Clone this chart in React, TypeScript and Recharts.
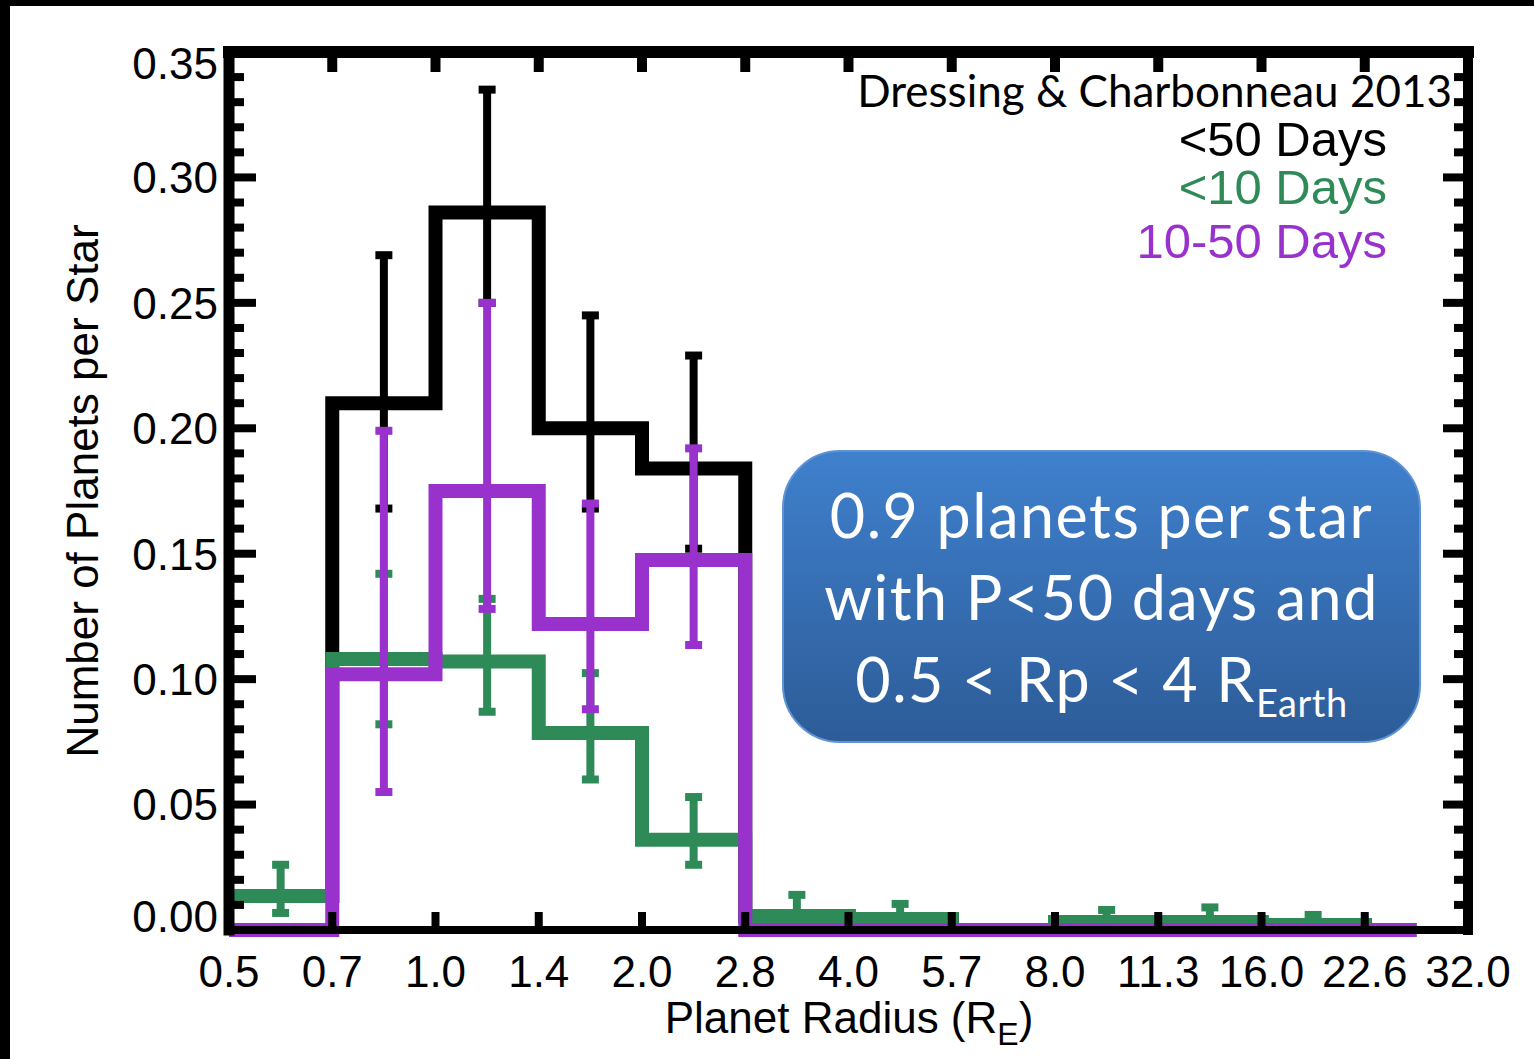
import { ComposedChart, Line, Scatter, ErrorBar, XAxis, YAxis } from 'recharts';

const RADIUS_LABELS = ['0.5', '0.7', '1.0', '1.4', '2.0', '2.8', '4.0', '5.7', '8.0', '11.3', '16.0', '22.6', '32.0'];

// planets per star in each radius bin (bin i spans RADIUS_LABELS[i]..RADIUS_LABELS[i+1])
const ALL_50 = [0.0136, 0.21, 0.286, 0.2, 0.184, 0.0056, 0.0044, 0, 0.0032, 0.0032, 0.002, 0];
const P_10 = [0.0136, 0.108, 0.107, 0.0785, 0.036, 0.0056, 0.0044, 0, 0.0032, 0.0032, 0.002, 0];
const P_10_50 = [0, 0.102, 0.175, 0.122, 0.1475, 0, 0, 0, 0, 0, 0, 0];

// error bars: which bins, lower and upper ends
const ALL_50_BINS = [1, 2, 3, 4];
const ALL_50_LO = [0.168, 0.25, 0.168, 0.152];
const ALL_50_HI = [0.269, 0.335, 0.245, 0.229];

const P_10_BINS = [0, 1, 2, 3, 4, 5, 6, 8, 9, 10];
const P_10_LO = [0.0068, 0.082, 0.087, 0.06, 0.026, 0.004, 0.003, 0.002, 0.002, 0.001];
const P_10_HI = [0.026, 0.142, 0.132, 0.1024, 0.053, 0.014, 0.0104, 0.008, 0.009, 0.006];

const P_10_50_BINS = [1, 2, 3, 4];
const P_10_50_LO = [0.055, 0.128, 0.088, 0.1136];
const P_10_50_HI = [0.199, 0.25, 0.17, 0.192];

const X_TICKS = RADIUS_LABELS.map((_, i) => i);
const Y_TICKS = Array.from({ length: 36 }, (_, i) => i / 100);

const BLACK = '#000000';
const GREEN = '#2E8B57';
const PURPLE = '#9932CC';
const SANS = '"Liberation Sans", Arial, Helvetica, sans-serif';
const CALIBRI = 'Lato, "Open Sans", sans-serif';

// step rows: one per bin edge, last one closes the final half bin
const stepRows = [
  ...ALL_50.map((_, i) => ({ x: i, all: ALL_50[i], short: P_10[i], mid: P_10_50[i] })),
  { x: ALL_50.length - 0.5, all: ALL_50[11], short: P_10[11], mid: P_10_50[11] },
];

const errRows = (bins: number[], vals: number[], lo: number[], hi: number[]) =>
  bins.map((b, k) => ({ x: b + 0.5, y: vals[b], err: [vals[b] - lo[k], hi[k] - vals[b]] }));

const isMajor = (v: number) => Math.round(v * 100) % 5 === 0;

const BottomTick = ({ x, y, payload }: any) => (
  <g>
    <line x1={x} y1={y} x2={x} y2={y - 18} stroke="#000" strokeWidth={8} />
    <text x={x} y={y + 57} textAnchor="middle" fontFamily={SANS} fontSize={44} fill="#000">
      {RADIUS_LABELS[payload.value]}
    </text>
  </g>
);

const TopTick = ({ x, y }: any) => <line x1={x} y1={y} x2={x} y2={y + 20} stroke="#000" strokeWidth={10} />;

const LeftTick = ({ x, y, payload }: any) => {
  const v = payload.value;
  const major = isMajor(v);
  // IDL nudges the end labels inside the axis range
  const shift = v === 0 ? -14 : v >= 0.35 ? 11 : 0;
  return (
    <g>
      <line x1={x} y1={y} x2={x + (major ? 27 : 15)} y2={y} stroke="#000" strokeWidth={8} />
      {major && (
        <text x={x - 11} y={y + shift} dy="0.36em" textAnchor="end" fontFamily={SANS} fontSize={44} fill="#000">
          {v.toFixed(2)}
        </text>
      )}
    </g>
  );
};

const RightTick = ({ x, y, payload }: any) => (
  <line x1={x} y1={y} x2={x - (isMajor(payload.value) ? 25 : 14)} y2={y} stroke="#000" strokeWidth={8} />
);

const Blank = () => <g />;

export default function App() {
  return (
    <div style={{ position: 'absolute', left: 0, top: 0, width: 1534, height: 1059, background: '#fff', overflow: 'hidden' }}>
      <ComposedChart width={1534} height={1059} data={stepRows} margin={{ top: 51, right: 65, bottom: 0, left: 0 }}>
        <XAxis dataKey="x" type="number" domain={[0, 12]} ticks={X_TICKS} interval={0} height={129}
          tickSize={0} tickMargin={0} tick={<BottomTick />}
          axisLine={{ stroke: '#000', strokeWidth: 8, strokeLinecap: 'square' }} />
        <XAxis xAxisId="top" orientation="top" dataKey="x" type="number" domain={[0, 12]} ticks={X_TICKS} interval={0}
          height={1} tickSize={0} tickMargin={0} tick={<TopTick />}
          axisLine={{ stroke: '#000', strokeWidth: 12, strokeLinecap: 'square' }} />
        <YAxis type="number" domain={[0, 0.35]} ticks={Y_TICKS} interval={0} width={229}
          tickSize={0} tickMargin={0} tick={<LeftTick />}
          axisLine={{ stroke: '#000', strokeWidth: 11, strokeLinecap: 'square' }} />
        <YAxis yAxisId="right" orientation="right" type="number" domain={[0, 0.35]} ticks={Y_TICKS} interval={0} width={1}
          tickSize={0} tickMargin={0} tick={<RightTick />}
          axisLine={{ stroke: '#000', strokeWidth: 10, strokeLinecap: 'square' }} />

        {/* invisible copy so the mirrored top / right axes get a domain */}
        <Line xAxisId="top" yAxisId="right" dataKey="all" stroke="none" dot={false} isAnimationActive={false} legendType="none" />

        <Line dataKey="all" type="stepAfter" stroke={BLACK} strokeWidth={14} dot={false} isAnimationActive={false} strokeLinecap="butt" strokeLinejoin="miter" />
        <Scatter data={errRows(ALL_50_BINS, ALL_50, ALL_50_LO, ALL_50_HI)} dataKey="y" shape={Blank} isAnimationActive={false}>
          <ErrorBar dataKey="err" direction="y" width={8.5} strokeWidth={8} stroke={BLACK} />
        </Scatter>

        <Line dataKey="short" type="stepAfter" stroke={GREEN} strokeWidth={14} dot={false} isAnimationActive={false} strokeLinecap="butt" strokeLinejoin="miter" />
        <Scatter data={errRows(P_10_BINS, P_10, P_10_LO, P_10_HI)} dataKey="y" shape={Blank} isAnimationActive={false}>
          <ErrorBar dataKey="err" direction="y" width={8.5} strokeWidth={8} stroke={GREEN} />
        </Scatter>

        <Line dataKey="mid" type="stepAfter" stroke={PURPLE} strokeWidth={14} dot={false} isAnimationActive={false} strokeLinecap="butt" strokeLinejoin="miter" />
        <Scatter data={errRows(P_10_50_BINS, P_10_50, P_10_50_LO, P_10_50_HI)} dataKey="y" shape={Blank} isAnimationActive={false}>
          <ErrorBar dataKey="err" direction="y" width={8.5} strokeWidth={8} stroke={PURPLE} />
        </Scatter>
      </ComposedChart>

      <svg width={1534} height={1059} style={{ position: 'absolute', left: 0, top: 0, pointerEvents: 'none' }}>
        <text x={1452} y={107} textAnchor="end" fontFamily={CALIBRI} fontSize={44} fill="#000">Dressing &amp; Charbonneau 2013</text>
        <text x={1387} y={156} textAnchor="end" fontFamily={SANS} fontSize={49} fill={BLACK}>&lt;50 Days</text>
        <text x={1387} y={204} textAnchor="end" fontFamily={SANS} fontSize={49} fill={GREEN}>&lt;10 Days</text>
        <text x={1387} y={258} textAnchor="end" fontFamily={SANS} fontSize={49} fill={PURPLE}>10-50 Days</text>
        <text x={849} y={1033} textAnchor="middle" fontFamily={SANS} fontSize={44} fill="#000">
          Planet Radius (R<tspan fontSize={32} dy={12}>E</tspan><tspan dy={-12}>)</tspan>
        </text>
        <text x={98} y={491} transform="rotate(-90 98 491)" textAnchor="middle" fontFamily={SANS} fontSize={44} fill="#000">
          Number of Planets per Star
        </text>
      </svg>

      <div style={{
        position: 'absolute', left: 782, top: 450, width: 639, height: 293, boxSizing: 'border-box',
        borderRadius: 58, border: '2px solid #5F93D3',
        background: 'linear-gradient(#3F80CD, #2D5C98)',
        color: '#fff', fontFamily: CALIBRI, fontSize: 61, letterSpacing: 1.5, lineHeight: '82px', textAlign: 'center', paddingTop: 22,
      }}>
        <div>0.9 planets per star</div>
        <div>with P&lt;50 days and</div>
        <div>0.5 &lt; Rp &lt; 4 R<span style={{ fontSize: 38, letterSpacing: 0.5, position: 'relative', top: 15 }}>Earth</span></div>
      </div>

      <div style={{ position: 'absolute', left: 0, top: 0, width: 1534, height: 6, background: '#000' }} />
      <div style={{ position: 'absolute', left: 0, top: 0, width: 10, height: 1059, background: '#000' }} />
    </div>
  );
}
